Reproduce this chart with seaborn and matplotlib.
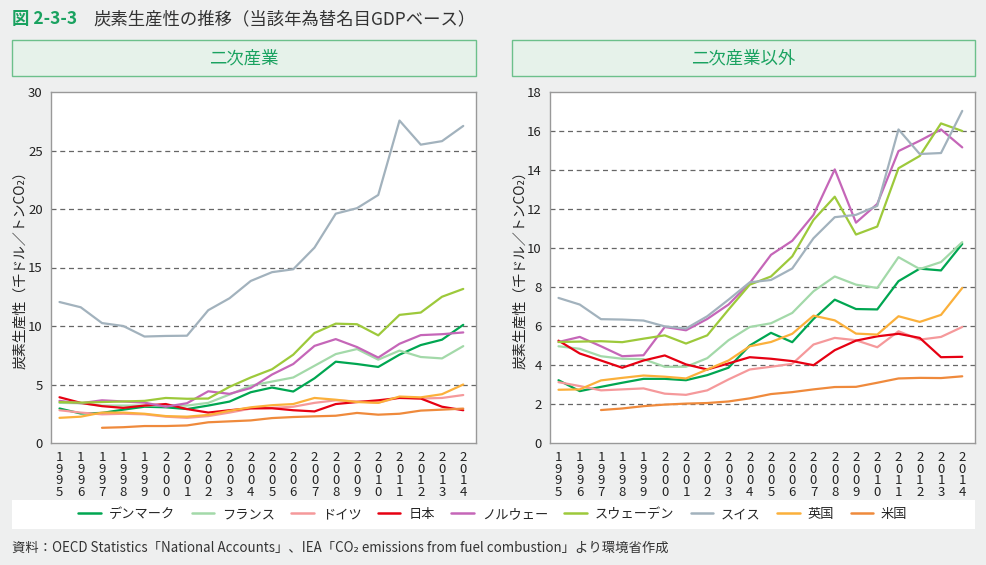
import numpy as np
import pandas as pd
import matplotlib
matplotlib.use("Agg")
import matplotlib.pyplot as plt
from matplotlib.patches import Rectangle
from matplotlib.lines import Line2D
import seaborn as sns

sns.set_theme(style="white")
plt.rcParams['font.family'] = ['Noto Sans CJK JP', 'DejaVu Sans']

years = list(range(1995, 2015))
countries = ["デンマーク", "フランス", "ドイツ", "日本", "ノルウェー", "スウェーデン", "スイス", "英国", "米国"]
colors = ["#00a651", "#a3d9a9", "#f5999b", "#e60012", "#c566b8", "#9dc93b", "#a2b2bd", "#fbb03b", "#ef8a3c"]
nan = np.nan

# 二次産業
ind_denmark = [2.95, 2.52, 2.57, 2.85, 3.1, 3.05, 2.9, 3.2, 3.54, 4.34, 4.74, 4.4, 5.53, 6.95, 6.75, 6.5, 7.55, 8.37, 8.83, 10.1]
ind_france = [3.43, 3.4, 3.2, 3.2, 3.2, 3.2, 3.2, 3.43, 4.14, 4.9, 5.25, 5.6, 6.6, 7.6, 8.03, 7.12, 7.9, 7.35, 7.23, 8.28]
ind_germany = [2.8, 2.6, 2.45, 2.5, 2.45, 2.25, 2.15, 2.3, 2.6, 2.94, 3.0, 3.1, 3.43, 3.65, 3.55, 3.45, 3.9, 3.8, 3.85, 4.1]
ind_japan = [3.91, 3.43, 3.15, 3.0, 3.2, 3.33, 2.9, 2.6, 2.8, 2.97, 2.97, 2.8, 2.7, 3.33, 3.5, 3.65, 3.85, 3.8, 3.1, 2.8]
ind_norway = [3.6, 3.4, 3.65, 3.55, 3.45, 3.1, 3.4, 4.42, 4.2, 4.7, 5.85, 6.75, 8.3, 8.88, 8.2, 7.3, 8.48, 9.22, 9.3, 9.45]
ind_sweden = [3.5, 3.45, 3.5, 3.55, 3.6, 3.85, 3.78, 3.8, 4.8, 5.6, 6.3, 7.55, 9.4, 10.2, 10.15, 9.2, 10.95, 11.15, 12.5, 13.17]
ind_swiss = [12.05, 11.6, 10.25, 10.0, 9.1, 9.15, 9.17, 11.35, 12.37, 13.85, 14.6, 14.85, 16.7, 19.6, 20.07, 21.2, 27.56, 25.5, 25.8, 27.1]
ind_uk = [2.15, 2.25, 2.6, 2.6, 2.5, 2.3, 2.25, 2.4, 2.75, 3.05, 3.23, 3.33, 3.85, 3.7, 3.5, 3.43, 3.97, 3.9, 4.17, 5.0]
ind_us = [nan, nan, 1.3, 1.35, 1.45, 1.45, 1.5, 1.77, 1.85, 1.93, 2.13, 2.22, 2.28, 2.33, 2.57, 2.42, 2.5, 2.77, 2.85, 2.94]

# 二次産業以外
oth_denmark = [3.22, 2.66, 2.88, 3.09, 3.29, 3.29, 3.22, 3.48, 3.86, 5.0, 5.65, 5.17, 6.36, 7.35, 6.87, 6.85, 8.3, 8.94, 8.85, 10.21]
oth_france = [4.96, 4.83, 4.45, 4.32, 4.3, 3.91, 3.91, 4.35, 5.27, 5.95, 6.14, 6.67, 7.78, 8.54, 8.12, 7.95, 9.53, 8.92, 9.28, 10.3]
oth_germany = [3.12, 2.92, 2.7, 2.75, 2.8, 2.53, 2.47, 2.7, 3.26, 3.77, 3.91, 4.06, 5.05, 5.39, 5.27, 4.91, 5.73, 5.3, 5.44, 5.95]
oth_japan = [5.25, 4.59, 4.23, 3.86, 4.23, 4.49, 4.03, 3.77, 4.08, 4.4, 4.32, 4.2, 3.99, 4.76, 5.25, 5.47, 5.6, 5.39, 4.4, 4.42]
oth_norway = [5.18, 5.44, 4.96, 4.45, 4.5, 5.95, 5.78, 6.36, 7.1, 8.2, 9.65, 10.37, 11.7, 14.03, 11.3, 12.26, 14.97, 15.5, 16.08, 15.16]
oth_sweden = [5.18, 5.2, 5.22, 5.17, 5.35, 5.52, 5.1, 5.52, 6.84, 8.12, 8.54, 9.57, 11.44, 12.63, 10.69, 11.1, 14.09, 14.72, 16.39, 16.0]
oth_swiss = [7.44, 7.1, 6.35, 6.33, 6.28, 5.98, 5.87, 6.5, 7.35, 8.24, 8.36, 8.95, 10.5, 11.58, 11.7, 12.16, 16.08, 14.82, 14.87, 17.03]
oth_uk = [2.73, 2.75, 3.21, 3.34, 3.46, 3.4, 3.31, 3.77, 4.23, 4.96, 5.18, 5.6, 6.53, 6.29, 5.61, 5.56, 6.5, 6.21, 6.57, 7.95]
oth_us = [nan, nan, 1.69, 1.77, 1.89, 1.97, 2.02, 2.05, 2.13, 2.29, 2.51, 2.61, 2.75, 2.87, 2.88, 3.09, 3.31, 3.34, 3.33, 3.42]

ind_series = [ind_denmark, ind_france, ind_germany, ind_japan, ind_norway, ind_sweden, ind_swiss, ind_uk, ind_us]
oth_series = [oth_denmark, oth_france, oth_germany, oth_japan, oth_norway, oth_sweden, oth_swiss, oth_uk, oth_us]

title_num = "図 2-3-3"
title_text = "炭素生産性の推移（当該年為替名目GDPベース）"
panel_titles = ["二次産業", "二次産業以外"]
ylabel = "炭素生産性（千ドル／トンCO₂）"
source = "資料：OECD Statistics「National Accounts」、IEA「CO₂ emissions from fuel combustion」より環境省作成"


def long_df(series):
    rows = []
    for c, vals in zip(countries, series):
        for y, v in zip(years, vals):
            rows.append({"year": y, "value": v, "country": c})
    return pd.DataFrame(rows).dropna()

W, H = 987, 565
fig = plt.figure(figsize=(W / 100, H / 100), dpi=100)
fig.patch.set_facecolor("#eeefef")

def fx(px):
    return px / W

def fy(py):
    return 1 - py / H

green = "#1aa260"

fig.text(fx(12), fy(19), title_num, color=green, fontsize=12.5, va="center", ha="left", fontweight="bold")
fig.text(fx(93), fy(19), title_text, color="#333333", fontsize=12.5, va="center", ha="left")

panels = [
    dict(series=ind_series, ymax=30, ystep=5, box=(12, 476), ax=(51, 476), ylab_x=20),
    dict(series=oth_series, ymax=18, ystep=2, box=(512, 975), ax=(550, 975), ylab_x=520),
]

palette = dict(zip(countries, colors))
xlabels = ["\n".join(str(y)) for y in years]

for p, ptitle in zip(panels, panel_titles):
    x0, x1 = p["box"]
    fig.patches.append(Rectangle((fx(x0), fy(76)), fx(x1 - x0), 36 / H, transform=fig.transFigure,
                                 facecolor="#e6f2ea", edgecolor="#6cc08b", linewidth=1.0))
    fig.text(fx((x0 + x1) / 2), fy(58), ptitle, color=green, fontsize=12.5, ha="center", va="center")

    a0, a1 = p["ax"]
    ax = fig.add_axes([fx(a0), fy(443), fx(a1 - a0), (443 - 92) / H])
    ax.set_facecolor("white")
    df = long_df(p["series"])
    sns.lineplot(data=df, x="year", y="value", hue="country", hue_order=countries,
                 palette=palette, ax=ax, legend=False, linewidth=1.6, sort=True)
    ax.set_ylim(0, p["ymax"])
    ax.set_xlim(1994.6, 2014.6)
    ax.set_yticks(np.arange(0, p["ymax"] + 0.1, p["ystep"]))
    ax.set_yticklabels([str(int(v)) for v in np.arange(0, p["ymax"] + 0.1, p["ystep"])], fontsize=9.5, color="#222222")
    ax.set_xticks(years)
    ax.set_xticklabels(xlabels, fontsize=9.5, color="#222222", linespacing=0.85)
    ax.tick_params(axis="x", direction="in", length=4, width=0.8, color="#777777", pad=6)
    ax.tick_params(axis="y", length=0, pad=6)
    for yv in np.arange(p["ystep"], p["ymax"], p["ystep"]):
        ax.axhline(yv, color="#666666", linestyle=(0, (4, 3)), linewidth=0.9, zorder=0)
    for s in ax.spines.values():
        s.set_color("#999999")
        s.set_linewidth(1.0)
    ax.set_xlabel("")
    ax.set_ylabel("")
    fig.text(fx(p["ylab_x"]), fy(267), ylabel, rotation=90, fontsize=10, ha="center", va="center", color="#222222")

# legend box
fig.patches.append(Rectangle((fx(12), fy(529)), fx(963), 29 / H, transform=fig.transFigure,
                             facecolor="white", edgecolor="none"))
handles = [Line2D([0], [0], color=c, lw=1.8) for c in colors]
fig.legend(handles, countries, loc="center", bbox_to_anchor=(fx(493), fy(514.5)), ncol=9,
           frameon=False, fontsize=9.5, handlelength=1.7, columnspacing=1.25, handletextpad=0.6,
           borderaxespad=0, borderpad=0)

fig.text(fx(12), fy(548), source, fontsize=9.6, ha="left", va="center", color="#333333")

fig.savefig("out.png", dpi=100, facecolor=fig.get_facecolor())
